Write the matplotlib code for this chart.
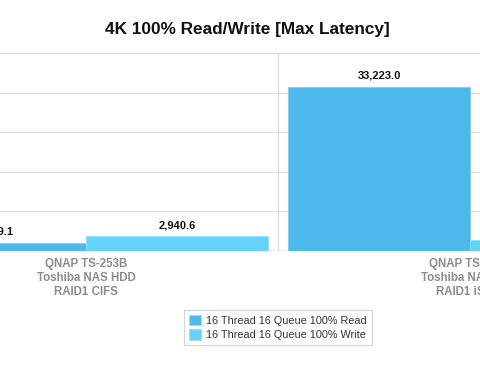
import matplotlib.pyplot as plt
from matplotlib.patches import Patch

plt.rcParams['font.family'] = ['Liberation Sans', 'DejaVu Sans']

# chart values
categories = ['QNAP TS-253B\nToshiba NAS HDD\nRAID1 CIFS',
              'QNAP TS-253B\nToshiba NAS HDD\nRAID1 iSCSI']
read_vals = [1569.1, 33223.0]
write_vals = [2940.6, 2240.0]
series_names = ['16 Thread 16 Queue 100% Read', '16 Thread 16 Queue 100% Write']
read_color = '#4db8ea'
write_color = '#64d3fc'

fig = plt.figure(figsize=(4.8, 3.68), dpi=100)
ax = fig.add_axes([0, 0.318, 1, 0.5367])

w = 0.474
x = range(len(categories))
rb = ax.bar([i - w / 2 for i in x], read_vals, w, color=read_color,
            edgecolor='#7fcdf0', linewidth=0.6, zorder=3)
wb = ax.bar([i + w / 2 for i in x], write_vals, w, color=write_color,
            edgecolor='#8fe0ff', linewidth=0.6, zorder=3)

for bars, vals in [(rb, read_vals), (wb, write_vals)]:
    for b, v in zip(bars, vals):
        ax.text(b.get_x() + b.get_width() / 2, v + 1300, f'{v:,.1f}',
                ha='center', va='bottom', fontsize=8, fontweight='bold',
                color='#111111', zorder=4, clip_on=False)

ax.set_ylim(0, 40000)
ax.set_xlim(-0.224, 1.026)
ax.set_yticks([0, 8000, 16000, 24000, 32000, 40000])
ax.yaxis.grid(True, color='#dddddd', linewidth=0.9, zorder=0)
ax.axvline(0.5, color='#dddddd', linewidth=0.9, zorder=0)
ax.axhline(0, color='#cccccc', linewidth=1.0, zorder=2)
ax.tick_params(axis='y', left=False, labelleft=False)
ax.set_xticks(list(x))
ax.set_xticklabels(categories, fontsize=8.3, fontweight='bold', color='#8c8c8c',
                   linespacing=1.25)
ax.tick_params(axis='x', length=0, pad=5)
for s in ax.spines.values():
    s.set_visible(False)

fig.text(0.516, 0.92, '4K 100% Read/Write [Max Latency]', ha='center', va='center',
         fontsize=12.4, fontweight='bold', color='#111111')

handles = [Patch(facecolor=read_color, edgecolor='#cccccc', linewidth=0.8),
           Patch(facecolor=write_color, edgecolor='#cccccc', linewidth=0.8)]
leg = fig.legend(handles, series_names, loc='center', bbox_to_anchor=(0.579, 0.11),
                 fontsize=7.8, frameon=True, fancybox=False, edgecolor='#cccccc',
                 handlelength=1.1, handleheight=1.1, handletextpad=0.5,
                 borderpad=0.45, labelspacing=0.35, borderaxespad=0)
leg.get_frame().set_linewidth(0.9)
for t in leg.get_texts():
    t.set_color('#333333')

fig.savefig('out.png', dpi=100)
